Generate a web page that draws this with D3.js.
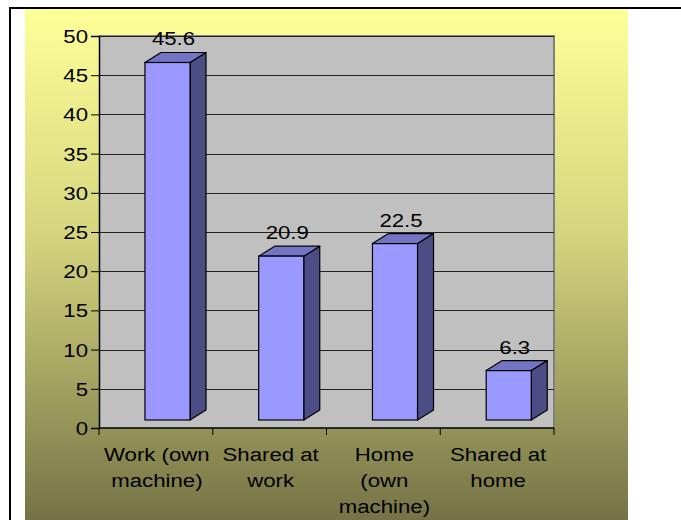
<!DOCTYPE html>
<html>
<head>
<meta charset="utf-8">
<script src="https://cdn.jsdelivr.net/npm/d3@7"></script>
<style>
  html, body { margin: 0; padding: 0; background: #fff; }
  svg { display: block; }
  text { font-family: "Liberation Sans", Arial, sans-serif; fill: #000; font-size: 19px; }
</style>
</head>
<body>
<script>
// ---- data ----
const categories = ["Work (own machine)", "Shared at work", "Home (own machine)", "Shared at home"];
const categoryLines = [["Work (own", "machine)"], ["Shared at", "work"], ["Home", "(own", "machine)"], ["Shared at", "home"]];
const values = [45.6, 20.9, 22.5, 6.3];
const yTicks = [0, 5, 10, 15, 20, 25, 30, 35, 40, 45, 50];

// ---- layout ----
const W = 681, H = 520;
const plot = { left: 99, right: 554, top: 36, bottom: 428 };
const depthX = 16, depthY = 10, floorLift = 8;
const SX = 1.17; // horizontal text stretch

const svg = d3.select("body").append("svg").attr("width", W).attr("height", H);

function stext(parent, x, y, str, anchor) {
  return parent.append("text")
    .attr("transform", `translate(${x},${y}) scale(${SX},1)`)
    .attr("text-anchor", anchor || "middle")
    .text(str);
}

const defs = svg.append("defs");
const grad = defs.append("linearGradient").attr("id", "bg").attr("x1", 0).attr("y1", 0).attr("x2", 0).attr("y2", 1);
grad.append("stop").attr("offset", "0%").attr("stop-color", "#FFFF99");
grad.append("stop").attr("offset", "45%").attr("stop-color", "#D4D47E");
grad.append("stop").attr("offset", "100%").attr("stop-color", "#757346");

// background gradient panel
svg.append("rect").attr("x", 25).attr("y", 8).attr("width", 603).attr("height", H - 8).attr("fill", "url(#bg)");
// outer border lines
svg.append("line").attr("x1", 9).attr("x2", W).attr("y1", 8).attr("y2", 8).attr("stroke", "#000").attr("stroke-width", 2);
svg.append("line").attr("x1", 10).attr("x2", 10).attr("y1", 7).attr("y2", H).attr("stroke", "#000").attr("stroke-width", 2);

const y = d3.scaleLinear().domain([0, 50]).range([plot.bottom, plot.top]);
const x = d3.scaleBand().domain(categories).range([plot.left, plot.right]).padding(0);
const bw = x.bandwidth();

// wall
svg.append("rect").attr("x", plot.left).attr("y", plot.top)
  .attr("width", plot.right - plot.left).attr("height", plot.bottom - plot.top)
  .attr("fill", "#C0C0C0");
svg.append("path")
  .attr("d", `M${plot.left},${plot.top}H${plot.right}V${plot.bottom}`)
  .attr("fill", "none").attr("stroke", "#808080").attr("stroke-width", 2);

// gridlines
svg.append("g").selectAll("line").data(yTicks.filter(d => d > 0)).join("line")
  .attr("x1", plot.left).attr("x2", plot.right)
  .attr("y1", d => Math.round(y(d)) + 0.5).attr("y2", d => Math.round(y(d)) + 0.5)
  .attr("stroke", "#222").attr("stroke-width", 1);

// y axis
const yAxis = d3.axisLeft(y).tickValues(yTicks).tickSize(8).tickFormat("");
const gy = svg.append("g").attr("transform", `translate(${plot.left},0)`).call(yAxis);
gy.select(".domain").attr("stroke", "#000").attr("stroke-width", 1.5);
gy.selectAll(".tick line").attr("stroke", "#000");
const yl = svg.append("g");
yTicks.forEach(t => stext(yl, 88, y(t) + 7, d3.format("d")(t), "end"));

// x axis line + ticks at band boundaries
svg.append("line").attr("x1", plot.left).attr("x2", plot.right)
  .attr("y1", plot.bottom).attr("y2", plot.bottom).attr("stroke", "#000").attr("stroke-width", 1.5);
const bounds = categories.map(c => x(c)).concat([plot.right]);
svg.append("g").selectAll("line").data(bounds).join("line")
  .attr("x1", d => d).attr("x2", d => d)
  .attr("y1", plot.bottom).attr("y2", plot.bottom + 7)
  .attr("stroke", "#000").attr("stroke-width", 1);

// x labels
const xl = svg.append("g");
categories.forEach((c, i) => {
  categoryLines[i].forEach((ln, j) => stext(xl, x(c) + bw / 2 + 1, 461 + j * 26, ln, "middle"));
});

// bars (3D)
const frontOff = bw * 0.404, frontW = bw * 0.396;
const bars = svg.append("g").selectAll("g").data(values).join("g");
bars.each(function(v, i) {
  const g = d3.select(this);
  const x0 = x(categories[i]) + frontOff, x1 = x0 + frontW;
  const yb = y(0) - floorLift, yt = y(v) - floorLift;
  // side
  g.append("path").attr("d", `M${x1},${yt}L${x1 + depthX},${yt - depthY}L${x1 + depthX},${yb - depthY}L${x1},${yb}Z`)
    .attr("fill", "#4D4D85").attr("stroke", "#000").attr("stroke-width", 1.2).attr("stroke-linejoin", "round");
  // top
  g.append("path").attr("d", `M${x0},${yt}L${x0 + depthX},${yt - depthY}L${x1 + depthX},${yt - depthY}L${x1},${yt}Z`)
    .attr("fill", "#7474C4").attr("stroke", "#000").attr("stroke-width", 1.2).attr("stroke-linejoin", "round");
  // front
  g.append("rect").attr("x", x0).attr("y", yt).attr("width", frontW).attr("height", yb - yt)
    .attr("fill", "#9999FF").attr("stroke", "#000").attr("stroke-width", 1.2);
  // value label
  stext(g, x0 + frontW / 2 + 6, yt - depthY - 7, d3.format(".1f")(v), "middle");
});
</script>
</body>
</html>
